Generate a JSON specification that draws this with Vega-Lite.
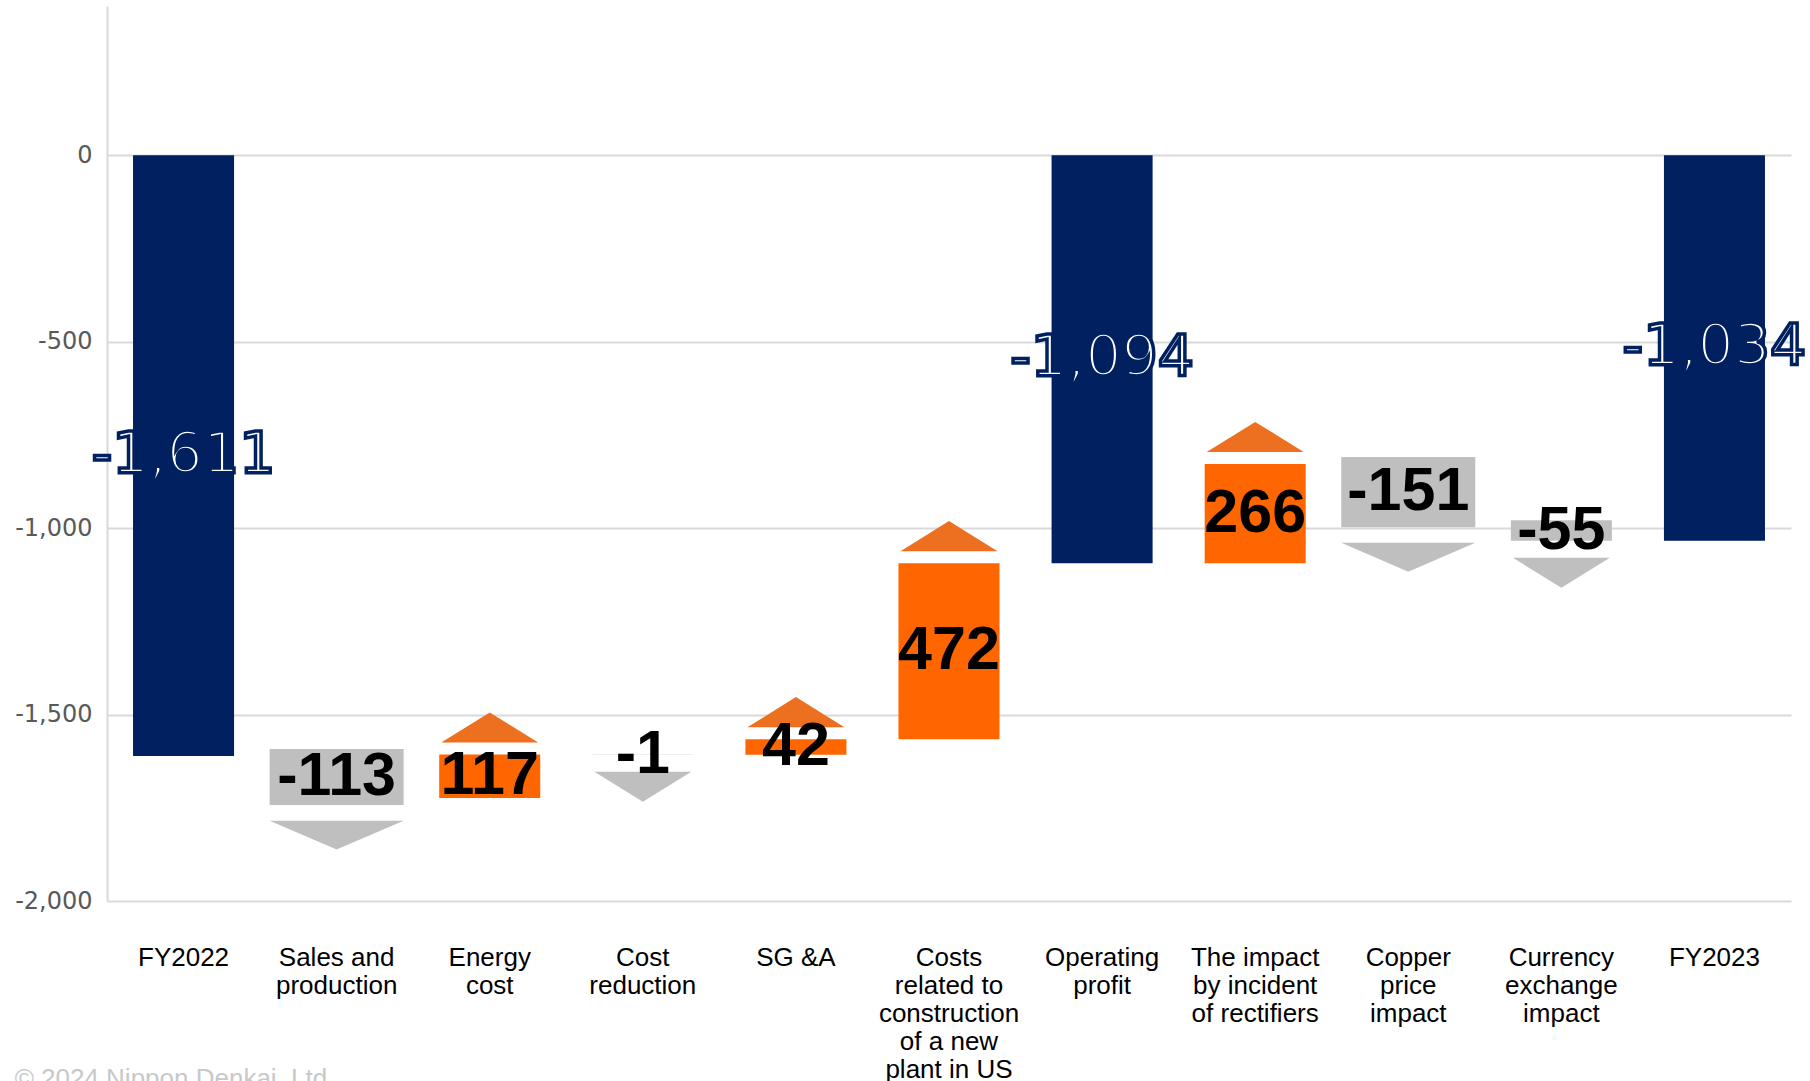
{
  "$schema": "https://vega.github.io/schema/vega-lite/v6.json",
  "width": 1684,
  "height": 895,
  "autosize": "none",
  "padding": {"left": 107, "top": 6, "right": 19, "bottom": 180},
  "background": "white",
  "config": {"view": {"stroke": null}},
  "title": {
    "text": "© 2024 Nippon Denkai, Ltd.",
    "orient": "bottom",
    "anchor": "start",
    "frame": "bounds",
    "offset": -16,
    "baseline": "top",
    "font": "Liberation Sans",
    "fontSize": 26,
    "fontWeight": "normal",
    "color": "#C8C8C8"
  },
  "data": {
    "values": [
      {"cat": "FY2022", "start": 0, "end": -1611, "kind": "total", "label": "-1,611"},
      {"cat": "Sales and|production", "start": -1611, "end": -1724, "kind": "dec", "label": "-113"},
      {"cat": "Energy|cost", "start": -1724, "end": -1607, "kind": "inc", "label": "117"},
      {"cat": "Cost|reduction", "start": -1607, "end": -1608, "kind": "dec", "label": "-1"},
      {"cat": "SG &A", "start": -1608, "end": -1566, "kind": "inc", "label": "42"},
      {"cat": "Costs|related to|construction|of a new|plant in US", "start": -1566, "end": -1094, "kind": "inc", "label": "472"},
      {"cat": "Operating|profit", "start": 0, "end": -1094, "kind": "total", "label": "-1,094"},
      {"cat": "The impact|by incident|of rectifiers", "start": -1094, "end": -828, "kind": "inc", "label": "266"},
      {"cat": "Copper|price|impact", "start": -828, "end": -979, "kind": "dec", "label": "-151"},
      {"cat": "Currency|exchange|impact", "start": -979, "end": -1034, "kind": "dec", "label": "-55"},
      {"cat": "FY2023", "start": 0, "end": -1034, "kind": "total", "label": "-1,034"}
    ]
  },
  "encoding": {
    "x": {
      "field": "cat",
      "type": "nominal",
      "scale": {
        "domain": ["FY2022", "Sales and|production", "Energy|cost", "Cost|reduction", "SG &A", "Costs|related to|construction|of a new|plant in US", "Operating|profit", "The impact|by incident|of rectifiers", "Copper|price|impact", "Currency|exchange|impact", "FY2023"],
        "paddingInner": 0,
        "paddingOuter": 0
      },
      "axis": {
        "title": null,
        "labelExpr": "split(datum.label, '|')",
        "labelFont": "Liberation Sans",
        "labelFontSize": 26,
        "labelColor": "#000000",
        "labelLineHeight": 28,
        "labelPadding": 43,
        "labelAngle": 0,
        "labelAlign": "center",
        "labelBaseline": "top",
        "labelOverlap": false,
        "labelLimit": 400,
        "ticks": false,
        "tickSize": 0,
        "domain": false,
        "grid": false
      }
    }
  },
  "layer": [
    {
      "transform": [{"filter": "datum.kind == 'total'"}],
      "mark": {"type": "bar", "color": "#002060", "width": {"band": 0.66}},
      "encoding": {
        "y": {
          "field": "start",
          "type": "quantitative",
          "scale": {"domain": [-2000, 400], "nice": false, "zero": false},
          "axis": {
            "title": null,
            "values": [-2000, -1500, -1000, -500, 0],
            "labelExpr": "replace(format(datum.value, ','), '−', '-')",
            "labelFont": "DejaVu Sans",
            "labelFontSize": 24,
            "labelColor": "#595959",
            "labelPadding": 15,
            "ticks": false,
            "tickSize": 0,
            "domainColor": "#D9D9D9",
            "domainWidth": 2,
            "gridColor": "#D9D9D9",
            "gridWidth": 2
          }
        },
        "y2": {"field": "end"}
      }
    },
    {
      "transform": [{"filter": "datum.kind == 'inc'"}],
      "mark": {"type": "bar", "color": "#FF6600", "width": {"band": 0.66}},
      "encoding": {
        "y": {"field": "start", "type": "quantitative"},
        "y2": {"field": "end"}
      }
    },
    {
      "transform": [{"filter": "datum.kind == 'dec' && datum.start - datum.end <= 100"}],
      "mark": {"type": "bar", "color": "#BFBFBF", "width": {"band": 0.66}},
      "encoding": {
        "y": {"field": "start", "type": "quantitative"},
        "y2": {"field": "end"}
      }
    },
    {
      "transform": [{"filter": "datum.kind == 'dec' && datum.start - datum.end > 100"}],
      "mark": {"type": "bar", "color": "#BFBFBF", "stroke": "#BFBFBF", "strokeWidth": 14, "width": {"band": 0.784}},
      "encoding": {
        "y": {"field": "start", "type": "quantitative"},
        "y2": {"field": "end"}
      }
    },
    {
      "transform": [{"filter": "datum.kind == 'inc'"}],
      "mark": {"type": "point", "shape": "M-1,0.31L1,0.31L0,-0.31Z", "size": 9409, "filled": true, "color": "#ED7020", "opacity": 1, "yOffset": -27},
      "encoding": {
        "y": {"field": "end", "type": "quantitative"}
      }
    },
    {
      "transform": [{"filter": "datum.kind == 'dec' && datum.start - datum.end <= 100"}],
      "mark": {"type": "point", "shape": "M-1,-0.31L1,-0.31L0,0.31Z", "size": 9409, "filled": true, "color": "#BFBFBF", "opacity": 1, "yOffset": 32},
      "encoding": {
        "y": {"field": "end", "type": "quantitative"}
      }
    },
    {
      "transform": [{"filter": "datum.kind == 'dec' && datum.start - datum.end > 100"}],
      "mark": {"type": "point", "shape": "M-1,-0.215L1,-0.215L0,0.215Z", "size": 17956, "filled": true, "color": "#BFBFBF", "opacity": 1, "yOffset": 37},
      "encoding": {
        "y": {"field": "end", "type": "quantitative"}
      }
    },
    {
      "transform": [
        {"filter": "datum.kind != 'total'"},
        {"fold": ["start", "end"], "as": ["k", "v"]},
        {"aggregate": [{"op": "mean", "field": "v", "as": "mid"}], "groupby": ["cat", "label", "kind"]}
      ],
      "mark": {"type": "text", "font": "Liberation Sans", "fontWeight": "bold", "fontSize": 61, "color": "#000000", "align": "center", "baseline": "middle"},
      "encoding": {
        "y": {"field": "mid", "type": "quantitative"},
        "text": {"field": "label"}
      }
    },
    {
      "transform": [
        {"filter": "datum.kind == 'total'"},
        {"fold": ["start", "end"], "as": ["k", "v"]},
        {"aggregate": [{"op": "mean", "field": "v", "as": "mid"}], "groupby": ["cat", "label", "kind"]}
      ],
      "mark": {"type": "text", "font": "DejaVu Sans", "fontSize": 57, "fill": "#FFFFFF", "stroke": "#002060", "strokeWidth": 3.5, "align": "center", "baseline": "middle"},
      "encoding": {
        "y": {"field": "mid", "type": "quantitative"},
        "text": {"field": "label"}
      }
    }
  ]
}
